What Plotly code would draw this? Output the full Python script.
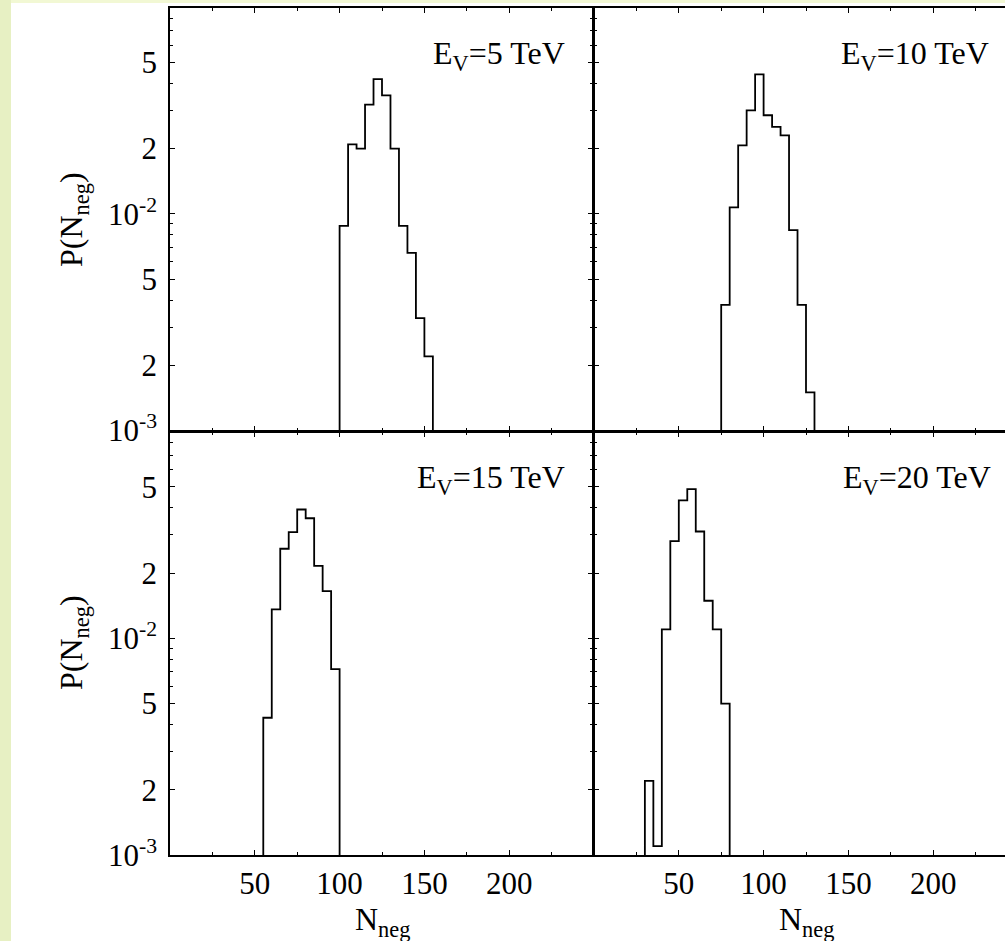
import plotly.graph_objects as go

# ---------------- data ----------------
energy_labels = ["E<sub>V</sub>=5 TeV", "E<sub>V</sub>=10 TeV",
                 "E<sub>V</sub>=15 TeV", "E<sub>V</sub>=20 TeV"]

edges_5tev = [100, 105, 110, 115, 120, 125, 130, 135, 140, 145, 150, 155]
prob_5tev = [0.0088, 0.0209, 0.0200, 0.0319, 0.0418, 0.0352,
             0.0200, 0.0088, 0.0066, 0.0033, 0.0022]

edges_10tev = [75, 80, 85, 90, 95, 100, 105, 110, 115, 120, 125, 130]
prob_10tev = [0.0038, 0.0107, 0.0207, 0.0300, 0.0440, 0.0285,
              0.0252, 0.0230, 0.0084, 0.0038, 0.0015]

edges_15tev = [55, 60, 65, 70, 75, 80, 85, 90, 95, 100]
prob_15tev = [0.0043, 0.0136, 0.0259, 0.0309, 0.0393, 0.0358,
              0.0216, 0.0165, 0.0072]

edges_20tev = [30, 35, 40, 45, 50, 55, 60, 65, 70, 75, 80]
prob_20tev = [0.0022, 0.0011, 0.0110, 0.0281, 0.0433, 0.0488,
              0.0311, 0.0149, 0.0110, 0.0050]

x_tickvals = [50, 100, 150, 200]
x_ticktext = ["50", "100", "150", "200"]
x_minor = [25, 75, 125, 175, 225]

y_tickvals = [1e-3, 2e-3, 5e-3, 1e-2, 2e-2, 5e-2]
y_ticktext = ["10<sup>-3</sup>", "2", "5", "10<sup>-2</sup>", "2", "5"]
y_minor = [3e-3, 4e-3, 6e-3, 7e-3, 8e-3, 9e-3, 3e-2, 4e-2, 6e-2, 7e-2, 8e-2, 9e-2]

Y_BASE = 1e-3
# ------------------------------------------------------------------

W, H = 1005, 941
FONT = "Liberation Serif"
LW = 1.5


def step_outline(edges, vals, base=Y_BASE):
    xs, ys = [edges[0]], [base]
    for i, v in enumerate(vals):
        xs += [edges[i], edges[i + 1]]
        ys += [v, v]
    xs.append(edges[-1])
    ys.append(base)
    return xs, ys


def px_x(p):
    return p / W


def px_y(p):
    return (H - p) / H


panels = [
    (edges_5tev, prob_5tev),
    (edges_10tev, prob_10tev),
    (edges_15tev, prob_15tev),
    (edges_20tev, prob_20tev),
]

fig = go.Figure()
for i, (e, v) in enumerate(panels):
    xs, ys = step_outline(e, v)
    sfx = "" if i == 0 else str(i + 1)
    fig.add_trace(go.Scatter(x=xs, y=ys, mode="lines",
                             line=dict(color="black", width=1.8, shape="linear"),
                             xaxis="x" + sfx, yaxis="y" + sfx,
                             showlegend=False, hoverinfo="skip"))

# panel geometry in pixels (full panel = 250 units over 424 px)
PX_PER_UNIT = 424 / 250.0
LEFT_X = (170, 594 - LW)
RIGHT_X0 = 594
TOP_Y = (8, 432 - LW)
BOT_Y = (432, 855)

left_range = [0, (LEFT_X[1] - LEFT_X[0]) / PX_PER_UNIT]
right_range = [0, (W - RIGHT_X0) / PX_PER_UNIT]

DEC_PX = 216.7
top_range = [-3, -3 + (TOP_Y[1] - TOP_Y[0]) / DEC_PX]
bot_range = [-3, -3 + (BOT_Y[1] - BOT_Y[0]) / DEC_PX]

tickfont = dict(family=FONT, size=31, color="black")


def xaxis_cfg(dom, rng, labels, anchor, mirror=True):
    return dict(domain=dom, range=rng, anchor=anchor, automargin=False,
                showline=True, linecolor="black", linewidth=LW,
                mirror="allticks" if mirror else False,
                ticks="inside", ticklen=5, tickwidth=1, tickcolor="black",
                tickmode="array", tickvals=x_tickvals, ticktext=x_ticktext,
                minor=dict(tickmode="array", tickvals=x_minor, ticks="inside",
                           ticklen=3, tickwidth=1, tickcolor="black", showgrid=False),
                showticklabels=labels, tickfont=tickfont, ticklabelstandoff=0,
                showgrid=False, zeroline=False, fixedrange=True)


def yaxis_cfg(dom, rng, labels, anchor, mirror=True):
    return dict(domain=dom, type="log", range=rng, anchor=anchor, automargin=False,
                showline=True, linecolor="black", linewidth=LW,
                mirror="allticks" if mirror else False,
                ticks="inside", ticklen=5, tickwidth=1, tickcolor="black",
                tickmode="array", tickvals=y_tickvals, ticktext=y_ticktext,
                minor=dict(tickmode="array", tickvals=y_minor, ticks="inside",
                           ticklen=3, tickwidth=1, tickcolor="black", showgrid=False),
                showticklabels=labels, tickfont=tickfont, ticklabelstandoff=5,
                showgrid=False, zeroline=False, fixedrange=True)


xl = [px_x(LEFT_X[0]), px_x(LEFT_X[1])]
xr = [px_x(RIGHT_X0), 1.0]
yt = [px_y(TOP_Y[1]), px_y(TOP_Y[0])]
yb = [px_y(BOT_Y[1]), px_y(BOT_Y[0])]

fig.update_layout(
    width=W, height=H,
    margin=dict(l=0, r=0, t=0, b=0, autoexpand=False),
    paper_bgcolor="white", plot_bgcolor="white",
    font=dict(family=FONT, color="black"),
    xaxis=xaxis_cfg(xl, left_range, False, "y"),
    yaxis=yaxis_cfg(yt, top_range, True, "x"),
    xaxis2=xaxis_cfg(xr, right_range, False, "y2"),
    yaxis2=yaxis_cfg(yt, top_range, False, "x2", mirror=False),
    xaxis3=xaxis_cfg(xl, left_range, True, "y3"),
    yaxis3=yaxis_cfg(yb, bot_range, True, "x3"),
    xaxis4=xaxis_cfg(xr, right_range, True, "y4"),
    yaxis4=yaxis_cfg(yb, bot_range, False, "x4", mirror=False),
)

# slide-style background strips
shapes = [
    dict(type="rect", xref="paper", yref="paper", x0=0, x1=px_x(11), y0=0, y1=1,
         fillcolor="#e7f0c3", line=dict(width=0), layer="below"),
    dict(type="rect", xref="paper", yref="paper", x0=px_x(11), x1=1, y0=px_y(3), y1=1,
         fillcolor="#f2f8d4", line=dict(width=0), layer="below"),
]
fig.update_layout(shapes=shapes)

ann = []
title_font = dict(family=FONT, size=32, color="black")
# x titles (panel centres of the full 424 px panels)
for cx in [382, 806]:
    ann.append(dict(text="N<sub>neg</sub>", x=px_x(cx), y=px_y(921), xref="paper", yref="paper",
                    xanchor="center", yanchor="middle", showarrow=False, font=title_font))
# y titles
for cy in [220, 643]:
    ann.append(dict(text="P(N<sub>neg</sub>)", x=px_x(73), y=px_y(cy), xref="paper", yref="paper",
                    xanchor="center", yanchor="middle", textangle=-90, showarrow=False,
                    font=title_font))
# panel labels
label_pos = [(567, 55), (991, 55), (567, 479), (993, 479)]
for lab, (lx, ly) in zip(energy_labels, label_pos):
    ann.append(dict(text=lab, x=px_x(lx), y=px_y(ly), xref="paper", yref="paper",
                    xanchor="right", yanchor="middle", showarrow=False, font=title_font))
fig.update_layout(annotations=ann)

fig.write_html("out.html")
